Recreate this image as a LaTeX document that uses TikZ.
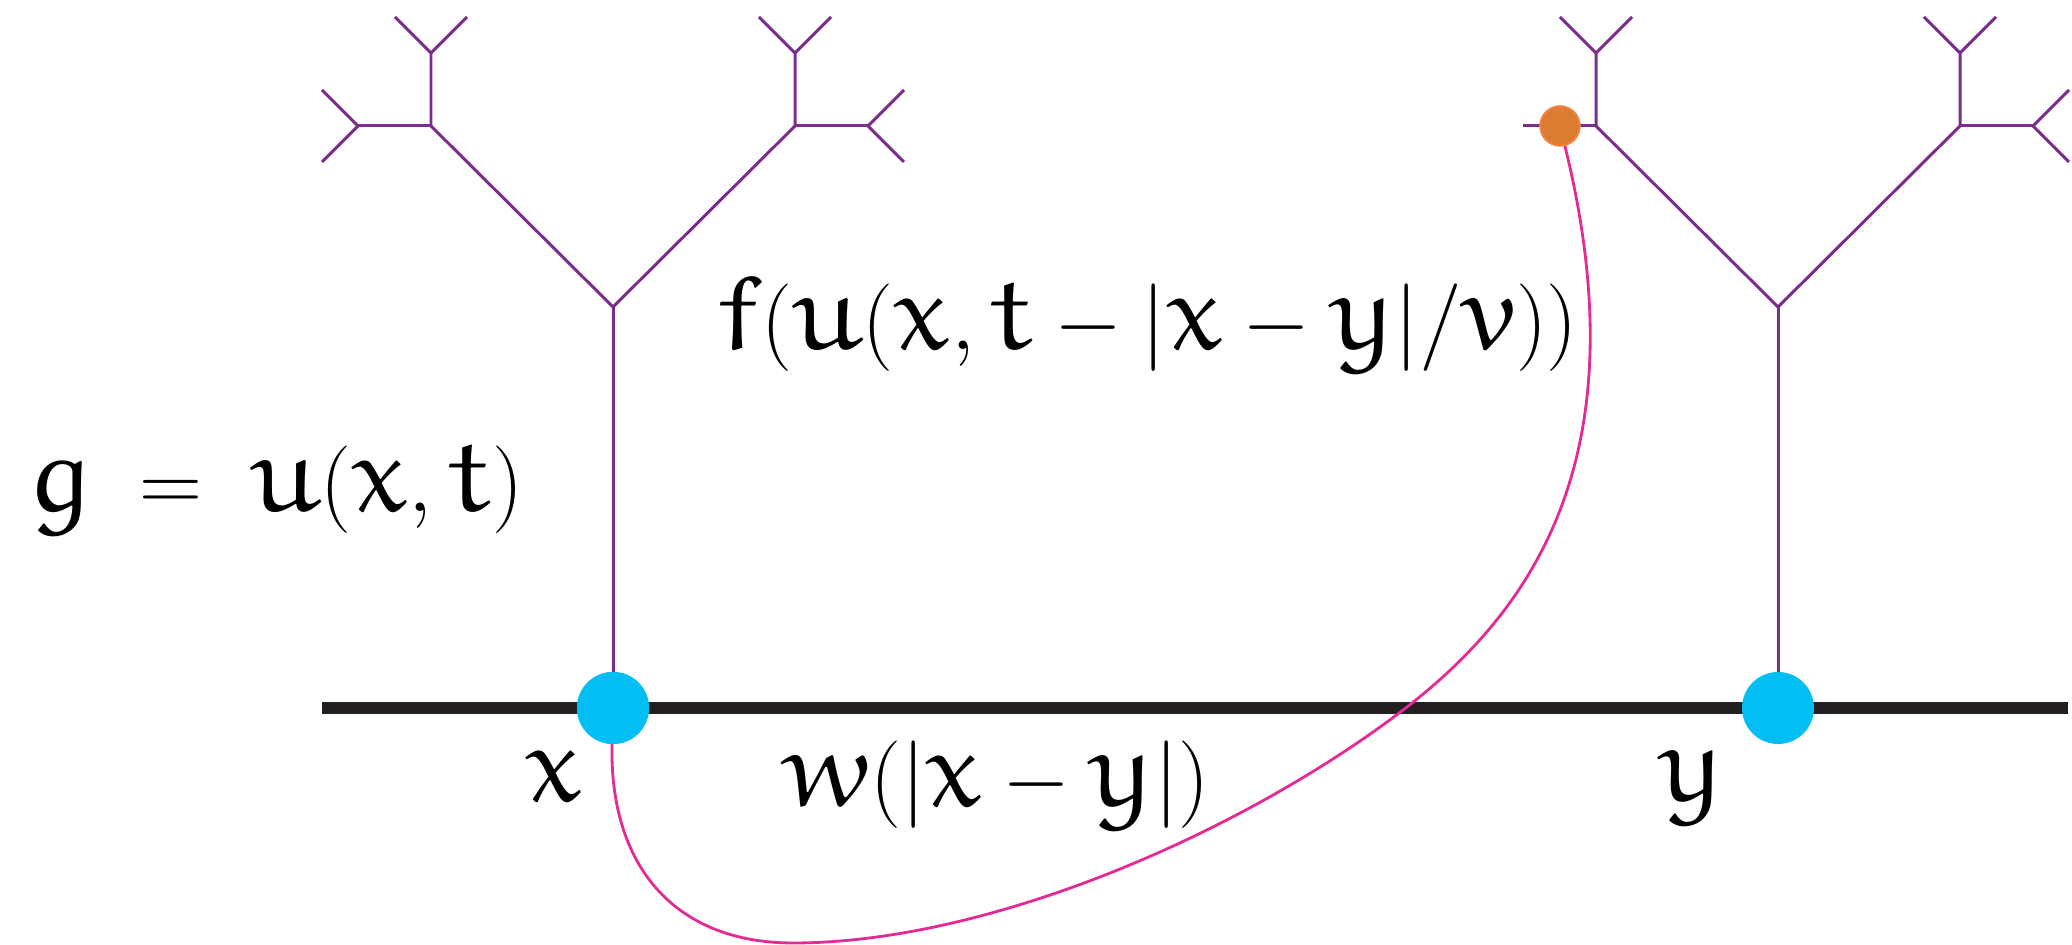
\documentclass[tikz,border=0pt]{standalone}
\usepackage{amsfonts}
\DeclareMathAlphabet{\eul}{U}{eur}{m}{n}
\definecolor{treepurple}{RGB}{123,45,142}
\definecolor{sitecyan}{RGB}{2,190,242}
\definecolor{axisblack}{RGB}{35,31,32}
\definecolor{kernelpink}{RGB}{228,42,148}
\definecolor{dotorange}{RGB}{218,124,50}
\definecolor{dotrim}{RGB}{242,128,62}

\begin{document}
\begin{tikzpicture}[
    branch/.style={treepurple, line width=0.85pt},
    site/.style={circle, fill=sitecyan, minimum size=7.2mm, inner sep=0pt, outer sep=0pt},
    synapse/.style={circle, fill=dotorange, draw=dotrim, line width=0.6pt, minimum size=3.9mm, inner sep=0pt},
    eqtext/.style={inner sep=0pt, anchor=base, font=\fontsize{31}{37}\selectfont}]
    \useasboundingbox (0,0) rectangle (20.72,9.45);

    % two dendritic trees, one above each site
    \foreach \rx in {6.13, 17.78} {
        \draw[branch] (\rx,2.37) -- (\rx,6.38); % trunk
        \draw[branch] (\rx-1.82,8.19) -- (\rx,6.38) -- (\rx+1.82,8.19);
        \foreach \sx in {-1.82, 1.82} {
            \draw[branch] (\rx+\sx,8.19) -- ++(0,0.73) -- ++(-0.36,0.36);
            \draw[branch] (\rx+\sx,8.92) -- ++(0.36,0.36);
        }
        \draw[branch] (\rx-1.82,8.19) -- ++(-0.73,0);
        \draw[branch] (\rx+1.82,8.19) -- ++(0.73,0);
        \draw[branch] (\rx+2.91,8.55) -- (\rx+2.55,8.19) -- (\rx+2.91,7.83);
    }
    % Y tips of the left arm, left tree only
    \draw[branch] (3.22,8.55) -- (3.58,8.19) -- (3.22,7.83);

    % the line of sites
    \draw[axisblack, line width=3.4pt] (3.22,2.37) -- (20.68,2.37);

    \node[synapse] (syn) at (15.60,8.19) {};
    \node[site] (xsite) at (6.13,2.37) {};
    \node[site] (ysite) at (17.78,2.37) {};

    % delayed coupling from x to the synapse on y
    \draw[kernelpink, line width=0.8pt] (syn) .. controls (16.41,4.90) and (15.33,3.36) .. (14.07,2.38)
        .. controls (12.49,1.16) and (9.93,0.02) .. (7.93,0.02)
        .. controls (6.73,0.02) and (6.09,0.81) .. (xsite);
    \node[site] at (xsite) {};
    \node[synapse] at (syn) {};

    \node[eqtext] (xlab) at (5.54,1.43) {$\eul{x}$};
    \node[eqtext] (ylab) at (16.92,1.43) {$\eul{y}$};
    \node[eqtext] (glab) at (2.76,4.33) {$\eul{g}\;=\;\eul{u}(\eul{x},\eul{t})$};
    \node[eqtext] (flab) at (11.47,5.95) {$\eul{f}(\eul{u}(\eul{x},\eul{t}-|\eul{x}-\eul{y}|/\eul{v}))$};
    \node[eqtext] (wlab) at (9.96,1.38) {$\eul{w}(|\eul{x}-\eul{y}|)$};
\end{tikzpicture}
\end{document}
